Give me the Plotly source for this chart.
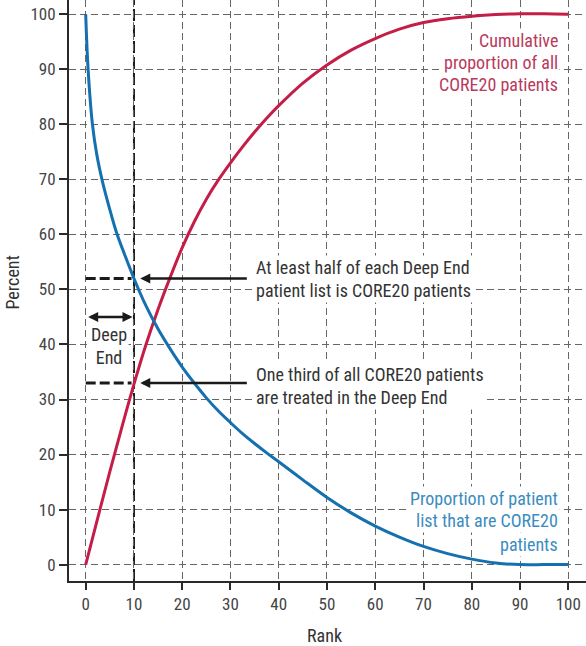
import plotly.graph_objects as go

# ---- data ----
rank_blue = [0, 0.5, 1.4, 2.3, 3.5, 5, 6.4, 8, 10, 12.5, 15, 17.5, 20, 22.5, 25, 27.5, 30, 32.5,
             35, 37.5, 40, 45, 50, 55, 60, 65, 70, 75, 80, 85, 90, 95, 100]
pct_list_core20 = [100, 90, 80, 74.5, 69.5, 64.5, 60.3, 56.5, 52, 47, 42.8, 39.2, 35.9, 33, 30.3,
                   27.9, 25.8, 23.8, 22, 20.3, 18.7, 15.4, 12.2, 9.4, 7, 5, 3.3, 2, 1, 0.3, 0, 0, 0]

rank_red = [0, 2.5, 5, 7.5, 10, 12.5, 15, 17.5, 20, 22.5, 25, 27.5, 30, 32.5, 35, 37.5, 40,
            45, 50, 55, 60, 65, 70, 75, 80, 85, 90, 95, 100]
cum_pct_core20 = [0, 8.5, 16.9, 25, 32.8, 40, 46.4, 52.2, 57.6, 62.3, 66.4, 69.9, 73, 75.9, 78.6,
                  81.1, 83.4, 87.5, 90.8, 93.5, 95.6, 97.3, 98.5, 99.2, 99.65, 99.95, 100.1, 100.1, 100]

tick_vals = [0, 10, 20, 30, 40, 50, 60, 70, 80, 90, 100]
tick_text = [str(v) for v in tick_vals]

deep_end_rank = 10
half_level = 52
third_level = 33

red_label = ["Cumulative", "proportion of all", "CORE20 patients"]
blue_label = ["Proportion of patient", "list that are CORE20", "patients"]
half_text = "At least half of each Deep End<br>patient list is CORE20 patients"
third_text = "One third of all CORE20 patients<br>are treated in the Deep End"

# ---- styling ----
FONT = "Liberation Sans Narrow, Arial Narrow, Roboto Condensed, sans-serif"
RED = "#c41e48"
BLUE = "#1470ae"
RED_TXT = "#b83a5c"
BLUE_TXT = "#3b8cc0"
DARK = "#1a1a1a"

fig = go.Figure()

fig.add_trace(go.Scatter(x=rank_red, y=cum_pct_core20, mode="lines",
                         line=dict(color=RED, width=3, shape="spline", smoothing=1.0),
                         showlegend=False, hoverinfo="skip"))
fig.add_trace(go.Scatter(x=rank_blue, y=pct_list_core20, mode="lines",
                         line=dict(color=BLUE, width=3, shape="spline", smoothing=1.0),
                         showlegend=False, hoverinfo="skip"))

# dashed reference segments at 52% and 33%
for lvl in (half_level, third_level):
    fig.add_trace(go.Scatter(x=[0, deep_end_rank - 0.5], y=[lvl, lvl], mode="lines",
                             line=dict(color=DARK, width=3, dash="10px,4px"),
                             showlegend=False, hoverinfo="skip"))

# black dashed vertical at rank 10
fig.add_shape(type="line", xref="x", yref="paper", x0=deep_end_rank, x1=deep_end_rank, y0=0, y1=1,
              line=dict(color="white", width=3), layer="below")
fig.add_shape(type="line", xref="x", yref="paper", x0=deep_end_rank, x1=deep_end_rank, y0=0, y1=1,
              line=dict(color=DARK, width=2, dash="12px,4px"), layer="below")

# arrows
for lvl in (half_level, third_level):
    fig.add_annotation(x=11.3, y=lvl, ax=33.7, ay=lvl, xref="x", yref="y", axref="x", ayref="y",
                       text="", showarrow=True, arrowhead=2, arrowsize=0.8, arrowwidth=2.5,
                       arrowcolor=DARK, standoff=0)
fig.add_annotation(x=9.7, y=45, ax=0.2, ay=45, xref="x", yref="y", axref="x", ayref="y",
                   text="", showarrow=True, arrowhead=2, arrowsize=0.8, arrowwidth=2.5,
                   arrowside="end+start", arrowcolor=DARK, standoff=0)

txt_font = dict(family=FONT, size=18, color="#333333")
fig.add_annotation(x=34.9, y=51.9, xref="x", yref="y", text=half_text, showarrow=False,
                   xanchor="left", yanchor="middle", align="left", font=txt_font,
                   bgcolor="white", borderpad=1)
fig.add_annotation(x=34.9, y=32.5, xref="x", yref="y", text=third_text, showarrow=False,
                   xanchor="left", yanchor="middle", align="left", font=txt_font,
                   bgcolor="white", borderpad=1)
fig.add_annotation(x=4.8, y=39.7, xref="x", yref="y", text="Deep<br>End", showarrow=False,
                   xanchor="center", yanchor="middle", align="center", font=txt_font,
                   bgcolor="white", borderpad=1)

for txt, yy in zip(red_label, [95.3, 91.3, 87.3]):
    fig.add_annotation(x=98.2, y=yy, xref="x", yref="y", text=txt, showarrow=False,
                       xanchor="right", yanchor="middle", align="right",
                       font=dict(family=FONT, size=18, color=RED_TXT), bgcolor="white", borderpad=1)
for txt, yy in zip(blue_label, [12.0, 8.05, 3.7]):
    fig.add_annotation(x=98.2, y=yy, xref="x", yref="y", text=txt, showarrow=False,
                       xanchor="right", yanchor="middle", align="right",
                       font=dict(family=FONT, size=18, color=BLUE_TXT), bgcolor="white", borderpad=1)

# axis titles
fig.add_annotation(x=-0.110, y=0.514, xref="paper", yref="paper", text="Percent", textangle=-90,
                   showarrow=False, xanchor="center", yanchor="middle",
                   font=dict(family=FONT, size=18, color="#333333"))
fig.add_annotation(x=0.4946, y=-0.0935, xref="paper", yref="paper", text="Rank",
                   showarrow=False, xanchor="center", yanchor="middle",
                   font=dict(family=FONT, size=18, color="#333333"))

axis_common = dict(showline=True, linecolor="#2a2a2a", linewidth=2, ticks="outside",
                   tickcolor="#2a2a2a", tickwidth=2, showgrid=True, gridcolor="#666666",
                   gridwidth=1.2, griddash="7px,4px", zeroline=False,
                   tickfont=dict(family=FONT, size=17, color="#444444"),
                   tickvals=tick_vals, ticktext=tick_text)

fig.update_layout(
    width=586, height=646,
    margin=dict(l=69, r=0, t=0, b=65),
    paper_bgcolor="white", plot_bgcolor="white",
    showlegend=False,
    xaxis=dict(range=[-3.46, 103.67], ticklen=7, **axis_common),
    yaxis=dict(range=[-2.98, 102.6], ticklen=8, **axis_common),
)

fig.write_html("out.html")
